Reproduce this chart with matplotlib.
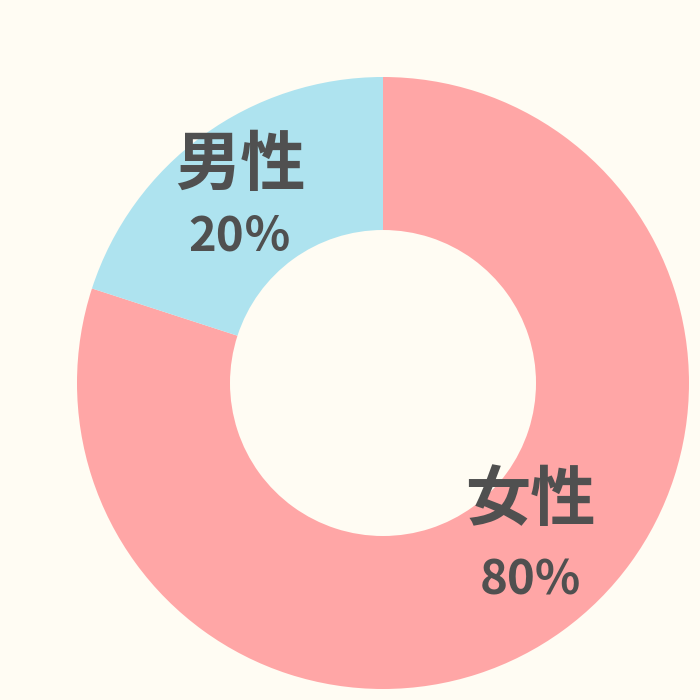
import matplotlib
matplotlib.use("Agg")
import matplotlib.pyplot as plt

labels = ["女性", "男性"]
values = [80, 20]
pct_labels = ["80%", "20％"]
colors = ["#FFA6A6", "#AEE3EF"]

bg = "#FFFCF3"
plt.rcParams['font.family'] = ['Noto Sans CJK JP', 'DejaVu Sans']

fig = plt.figure(figsize=(7, 7), dpi=100, facecolor=bg)
ax = fig.add_axes([77/700, (700-383-306)/700, 612/700, 612/700])
ax.set_facecolor(bg)
ax.pie(values, colors=colors, startangle=90, counterclock=False,
       radius=1.0, wedgeprops=dict(width=0.5, edgecolor='none'))
ax.set_xlim(-1, 1)
ax.set_ylim(-1, 1)
ax.set_aspect('equal')
ax.axis('off')

txt = "#505050"
pos = {"女性": ((0.480, -0.384), (0.480, -0.644)),
       "男性": ((-0.467, 0.710), (-0.467, 0.480))}
for lab, pl in zip(labels, pct_labels):
    (tx, ty), (px, py) = pos[lab]
    ax.text(tx, ty, lab, ha='center', va='center', fontsize=47,
            fontweight='bold', color=txt)
    ax.text(px, py, pl, ha='center', va='center', fontsize=34,
            fontweight='bold', color=txt)

fig.savefig("out.png", dpi=100, facecolor=bg)
